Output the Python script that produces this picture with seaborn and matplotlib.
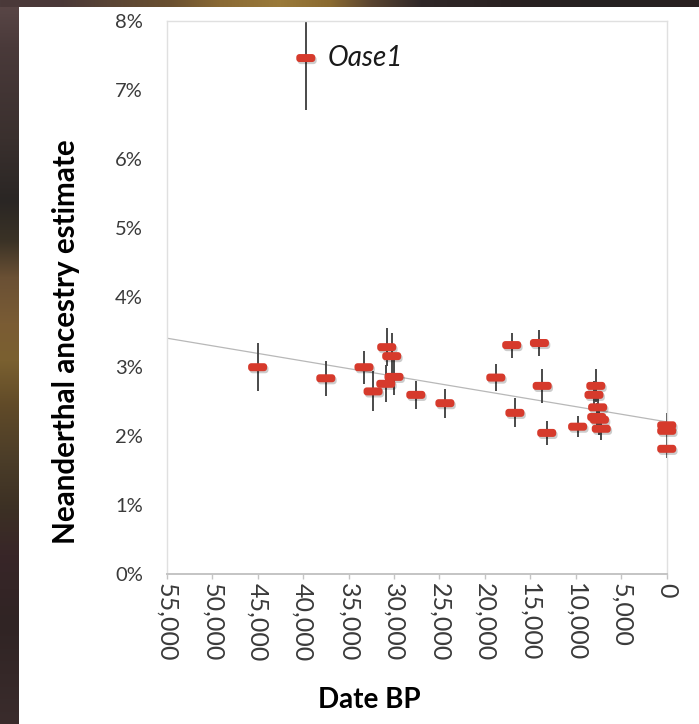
import numpy as np
import pandas as pd
import matplotlib
matplotlib.use("Agg")
import matplotlib.pyplot as plt
import seaborn as sns
from matplotlib.path import Path
from matplotlib.markers import MarkerStyle
from matplotlib import patheffects as pe
from matplotlib.ticker import FuncFormatter

# Sample ages (years before present), ancestry estimates (%) and their error (%)
dates = [39700, 45000, 37500, 33300, 32300, 30800, 30250, 30900, 30000, 27600,
         24400, 18800, 17050, 16700, 14000, 13700, 13200, 9800, 7800, 8000,
         7600, 7700, 7400, 7200, 0, 0, 0]
values = [7.46, 2.99, 2.83, 2.99, 2.64, 3.28, 3.15, 2.75, 2.85, 2.59,
          2.47, 2.84, 3.31, 2.33, 3.34, 2.72, 2.04, 2.13, 2.72, 2.59,
          2.41, 2.27, 2.23, 2.10, 2.15, 2.07, 1.81]
errors = [0.75, 0.35, 0.25, 0.24, 0.29, 0.27, 0.33, 0.27, 0.26, 0.20,
          0.21, 0.19, 0.18, 0.21, 0.19, 0.25, 0.17, 0.15, 0.24, 0.20,
          0.20, 0.20, 0.22, 0.16, 0.18, 0.15, 0.13]

# Labelled outlier
label_text = "Oase1"
label_index = 0

# Linear trend through the samples
trend_dates = [55000, 0]
trend_values = [3.41, 2.20]

x_ticks = [55000, 50000, 45000, 40000, 35000, 30000, 25000, 20000, 15000, 10000, 5000, 0]
y_ticks = [0, 1, 2, 3, 4, 5, 6, 7, 8]

df = pd.DataFrame({"date": dates, "value": values, "err": errors})

sns.set_theme(style="white")
plt.rcParams["font.family"] = ["Lato", "DejaVu Sans"]

W, H = 699, 724
fig = plt.figure(figsize=(W / 100, H / 100), dpi=100)

# ---- backdrop: dark photographic border on the left and top edges ----
left_stops_y = [0, 46, 138, 200, 240, 277, 323, 360, 406, 462, 508, 554, 623, 724]
left_cols = ["#5b4848", "#4a3a3a", "#3a302e", "#2a2624", "#3a3226", "#6a5034",
             "#7a5c34", "#7a6030", "#604a28", "#4a3c28", "#3c3024", "#382628",
             "#302424", "#3a2c2c"]
top_stops_x = [0, 60, 110, 170, 220, 280, 330, 370, 420, 500, 600, 699]
top_cols = ["#4a3a3a", "#4a3838", "#5a4535", "#6a5030", "#8a6a35", "#9a7a3a",
            "#8a6a30", "#5a4530", "#302828", "#2a2222", "#252020", "#2a2020"]


def ramp(stops, cols, n):
    rgb = np.array([matplotlib.colors.to_rgb(c) for c in cols])
    pos = np.arange(n)
    return np.stack([np.interp(pos, stops, rgb[:, k]) for k in range(3)], axis=1)


img = np.ones((H, W, 3))
left_ramp = ramp(left_stops_y, left_cols, H)
top_ramp = ramp(top_stops_x, top_cols, W)
img[:, :19, :] = left_ramp[:, None, :]
img[:7, :, :] = top_ramp[None, :, :]
bg = fig.add_axes([0, 0, 1, 1], zorder=-5)
bg.imshow(img, aspect="auto", interpolation="bilinear")
bg.set_axis_off()

# ---- main chart ----
ax = fig.add_axes([166.7 / W, 1 - 574 / H, 500 / W, (574 - 20.7) / H])
ax.set_facecolor("white")

# regression line
sns.lineplot(x=trend_dates, y=trend_values, ax=ax, color="#b8b8b8",
             linewidth=0.9, zorder=1)

# vertical error bars
ax.errorbar(df["date"], df["value"], yerr=df["err"], fmt="none",
            ecolor="#4a4a4a", elinewidth=1.4, capsize=0, zorder=2)


# rounded-bar marker
def rounded_bar(w=19.0, h=8.0, r=3.2, n=8):
    pts = []
    corners = [(w / 2 - r, h / 2 - r, 0), (-w / 2 + r, h / 2 - r, 90),
               (-w / 2 + r, -h / 2 + r, 180), (w / 2 - r, -h / 2 + r, 270)]
    for cx, cy, a0 in corners:
        for t in np.linspace(np.radians(a0), np.radians(a0 + 90), n):
            pts.append((cx + r * np.cos(t), cy + r * np.sin(t)))
    pts.append(pts[0])
    codes = [Path.MOVETO] + [Path.LINETO] * (len(pts) - 2) + [Path.CLOSEPOLY]
    return Path(np.array(pts), codes)


bar_marker = MarkerStyle(rounded_bar())
sns.scatterplot(data=df, x="date", y="value", ax=ax, marker=bar_marker,
                s=(19 * 0.72) ** 2, color="#d63a2c", edgecolor="none",
                linewidth=0, zorder=3, clip_on=False, legend=False)
ax.collections[-1].set_path_effects([
    pe.SimplePatchShadow(offset=(1.0, -1.5), shadow_rgbFace="black", alpha=0.2),
    pe.Normal(),
])

ax.annotate(label_text, xy=(dates[label_index], values[label_index]),
            xytext=(16, 0), textcoords="offset points", ha="left", va="center",
            fontsize=20, fontstyle="italic", color="#1a1a1a")

# axes, ticks and labels
ax.set_xlim(55000, 0)
ax.set_ylim(0, 8)
ax.set_xticks(x_ticks)
ax.set_yticks(y_ticks)
ax.xaxis.set_major_formatter(FuncFormatter(lambda v, _: f"{v:,.0f}"))
ax.yaxis.set_major_formatter(FuncFormatter(lambda v, _: f"{v:.0f}%"))
ax.tick_params(axis="x", which="major", bottom=True, length=3.8, width=1.0,
               color="#c4c4c4", pad=3, labelsize=18, labelcolor="#3a3a3a",
               labelrotation=-90)
ax.tick_params(axis="y", which="major", left=False, length=0, pad=17,
               labelsize=14.5, labelcolor="#3a3a3a")
for lab in ax.get_xticklabels():
    lab.set_va("top")
    lab.set_ha("center")

for side in ["top", "right", "left"]:
    ax.spines[side].set_color("#e0e0e0")
    ax.spines[side].set_linewidth(1.0)
ax.spines["bottom"].set_color("#c4c4c4")
ax.spines["bottom"].set_linewidth(1.4)

ax.set_xlabel("Date BP", fontsize=20, fontweight="bold", color="black")
ax.set_ylabel("Neanderthal ancestry estimate", fontsize=21.3, fontweight="bold",
              color="black")
ax.xaxis.set_label_coords((369 - 166.7) / 500, (574 - 700) / (574 - 20.7))
ax.xaxis.label.set_va("center")
ax.yaxis.set_label_coords((66 - 166.7) / 500, (574 - 342) / (574 - 20.7))
ax.yaxis.label.set_va("center")

fig.savefig("out.png", dpi=100)
